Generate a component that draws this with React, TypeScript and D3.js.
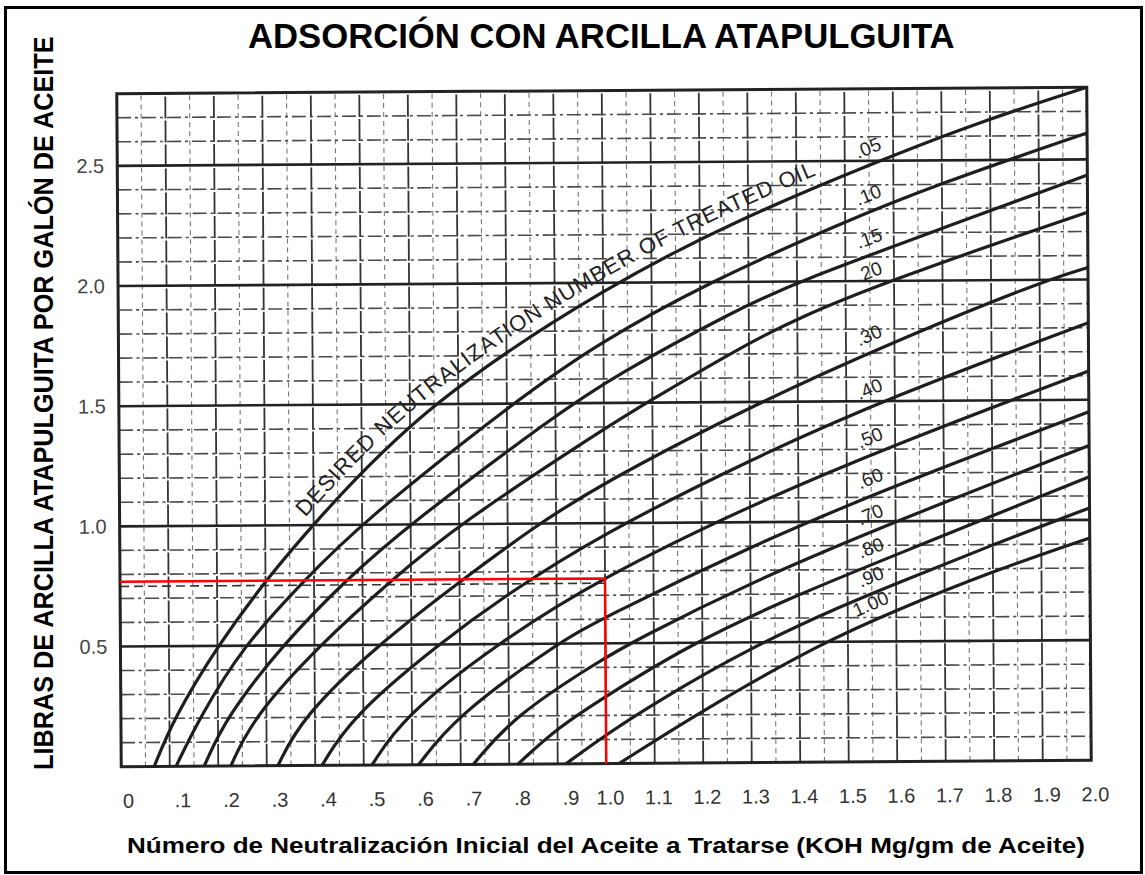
import React, { useEffect, useRef } from 'react';
import * as d3 from 'd3';

const W = 1145;
const H = 875;

const titleText = 'ADSORCIÓN CON ARCILLA ATAPULGUITA';
const yTitleText = 'LIBRAS DE ARCILLA ATAPULGUITA POR GALÓN DE ACEITE';
const xTitleText = 'Número de Neutralización Inicial del Aceite a Tratarse (KOH Mg/gm de Aceite)';
const curveNoteText = 'DESIRED NEUTRALIZATION NUMBER OF TREATED OIL';

const xTickValues = [0, 0.1, 0.2, 0.3, 0.4, 0.5, 0.6, 0.7, 0.8, 0.9, 1.0, 1.1, 1.2, 1.3, 1.4, 1.5, 1.6, 1.7, 1.8, 1.9, 2.0];
const xTickLabels = ['0', '.1', '.2', '.3', '.4', '.5', '.6', '.7', '.8', '.9', '1.0', '1.1', '1.2', '1.3', '1.4', '1.5', '1.6', '1.7', '1.8', '1.9', '2.0'];
const yTickValues = [0.5, 1.0, 1.5, 2.0, 2.5];
const yTickLabels = ['0.5', '1.0', '1.5', '2.0', '2.5'];

const curveLabels = ['.05', '.10', '.15', '.20', '.30', '.40', '.50', '.60', '.70', '.80', '.90', '1.00'];

const c05 = [[0.068, 0], [0.109, 0.2], [0.2, 0.5], [0.3, 0.77], [0.397, 1.0], [0.63, 1.5], [1.02, 2.0], [1.28, 2.26], [1.57, 2.5], [1.78, 2.66], [2.0, 2.8]];
const c10 = [[0.113, 0], [0.162, 0.2], [0.253, 0.5], [0.38, 0.77], [0.494, 1.0], [0.81, 1.5], [0.99, 1.75], [1.218, 2.0], [1.49, 2.24], [1.69, 2.4], [2.0, 2.61]];
const c15 = [[0.171, 0], [0.216, 0.2], [0.333, 0.5], [0.465, 0.77], [0.597, 1.0], [0.9, 1.45], [1.02, 1.61], [1.28, 1.89], [1.403, 2.0], [1.69, 2.21], [2.0, 2.435]];
const c20 = [[0.226, 0], [0.272, 0.2], [0.41, 0.5], [0.56, 0.77], [0.7, 1.0], [0.99, 1.38], [1.088, 1.5], [1.28, 1.725], [1.403, 1.85], [1.59, 2.0], [1.88, 2.2], [2.0, 2.28]];
const c30 = [[0.323, 0], [0.373, 0.2], [0.53, 0.5], [0.7, 0.76], [0.85, 0.98], [0.99, 1.16], [1.3, 1.48], [1.59, 1.74], [1.9, 1.99], [2.0, 2.05]];
const c40 = [[0.414, 0], [0.475, 0.2], [0.655, 0.5], [0.8, 0.71], [0.99, 0.95], [1.3, 1.26], [1.595, 1.52], [2.0, 1.82]];
const c50 = [[0.517, 0], [0.582, 0.2], [0.775, 0.5], [0.99, 0.77], [1.3, 1.07], [1.6, 1.32], [2.0, 1.62]];
const c60 = [[0.613, 0], [0.69, 0.2], [0.9, 0.5], [0.99, 0.6], [1.3, 0.9], [1.6, 1.15], [2.0, 1.45]];
const c70 = [[0.726, 0], [0.81, 0.2], [0.99, 0.43], [1.06, 0.51], [1.3, 0.75], [1.6, 1.0], [2.0, 1.31]];
const c80 = [[0.818, 0], [0.9, 0.15], [1.0, 0.28], [1.18, 0.5], [1.4, 0.7], [1.6, 0.86], [2.0, 1.18]];
const c90 = [[0.917, 0], [1.0, 0.12], [1.1, 0.25], [1.3, 0.48], [1.5, 0.66], [1.6, 0.74], [1.8, 0.9], [2.0, 1.05]];
const c100 = [[1.027, 0], [1.2, 0.22], [1.45, 0.5], [1.6, 0.63], [1.8, 0.79], [2.0, 0.925]];

const curves = [c05, c10, c15, c20, c30, c40, c50, c60, c70, c80, c90, c100];

const exampleX = 1.0;
const exampleY = 0.77;
const dashedRefY = 0.75;

const FONT = "'Liberation Sans', Arial, Helvetica, sans-serif";

function interp(pts: number[][], x: number): number {
  for (let i = 0; i < pts.length - 1; i++) {
    const [x0, y0] = pts[i];
    const [x1, y1] = pts[i + 1];
    if (x >= x0 && x <= x1) return y0 + ((x - x0) / (x1 - x0)) * (y1 - y0);
  }
  return pts[pts.length - 1][1];
}

export default function App() {
  const ref = useRef<SVGSVGElement>(null);

  useEffect(() => {
    const svg = d3.select(ref.current);
    svg.selectAll('*').remove();

    svg.append('rect').attr('x', 0).attr('y', 0).attr('width', W).attr('height', H).attr('fill', '#fff');
    svg.append('rect')
      .attr('x', 5.5).attr('y', 7.5).attr('width', 1136).attr('height', 865)
      .attr('fill', 'none').attr('stroke', '#000').attr('stroke-width', 3);

    const left = 119, right = 1089, top = 90.5, bottom = 763.5;
    const x = d3.scaleLinear().domain([0, 2]).range([left, right]);
    const y = d3.scaleLinear().domain([0, 2.8]).range([bottom, top]);

    const g = svg.append('g').attr('transform', `rotate(-0.38, ${(left + right) / 2}, ${(top + bottom) / 2})`);

    // vertical grid
    const vLines = d3.range(0, 41).map((i) => i * 0.05);
    g.append('g').selectAll('line').data(vLines).join('line')
      .attr('x1', (d) => x(d)).attr('x2', (d) => x(d))
      .attr('y1', y(0)).attr('y2', y(2.8))
      .attr('stroke', (d, i) => (i % 2 === 0 ? '#333' : '#777'))
      .attr('stroke-width', (d, i) => (i % 2 === 0 ? 1.8 : 1.1))
      .attr('stroke-dasharray', (d, i) => (i % 2 === 0 ? '22,2' : '5,4'));

    // horizontal grid
    const hLines = d3.range(1, 28).map((i) => i / 10);
    g.append('g').selectAll('line').data(hLines).join('line')
      .attr('x1', x(0)).attr('x2', x(2))
      .attr('y1', (d) => y(d)).attr('y2', (d) => y(d))
      .attr('stroke', (d) => (Math.round(d * 10) % 5 === 0 ? '#222' : '#4a4a4a'))
      .attr('stroke-width', (d) => (Math.round(d * 10) % 5 === 0 ? 2.6 : 1.6))
      .attr('stroke-dasharray', (d) => (Math.round(d * 10) % 5 === 0 ? null : '14,4,3,4'));

    // dashed reference line
    g.append('line')
      .attr('x1', x(0)).attr('x2', x(exampleX))
      .attr('y1', y(dashedRefY)).attr('y2', y(dashedRefY))
      .attr('stroke', '#333').attr('stroke-width', 1.6).attr('stroke-dasharray', '9,5');

    // frame
    g.append('rect')
      .attr('x', x(0)).attr('y', y(2.8)).attr('width', x(2) - x(0)).attr('height', y(0) - y(2.8))
      .attr('fill', 'none').attr('stroke', '#222').attr('stroke-width', 3);

    // curves
    const line = d3.line<number[]>().x((d) => x(d[0])).y((d) => y(d[1])).curve(d3.curveBasis);
    const paths = g.append('g').selectAll('path').data(curves).join('path')
      .attr('id', (d, i) => `curve${i}`)
      .attr('d', (d) => line(d))
      .attr('fill', 'none').attr('stroke', '#1e1e1e').attr('stroke-width', 3.2);

    // curve labels
    curves.forEach((pts, i) => {
      const lx = 1.56;
      const ly = interp(pts, lx);
      const dxp = x(1.62) - x(1.5);
      const dyp = y(interp(pts, 1.62)) - y(interp(pts, 1.5));
      const ang = Math.atan2(dyp, dxp);
      const off = 16;
      const nx = Math.sin(ang) * off;
      const ny = -Math.cos(ang) * off;
      const cx = x(lx) + nx;
      const cy = y(ly) + ny;
      g.append('text')
        .attr('transform', `translate(${cx},${cy}) rotate(${(ang * 180) / Math.PI})`)
        .attr('text-anchor', 'middle').attr('dominant-baseline', 'central')
        .attr('font-family', FONT).attr('font-size', 19).attr('fill', '#222')
        .text(curveLabels[i]);
    });

    // note along the .05 curve
    const node = paths.nodes()[0] as SVGPathElement;
    const total = node.getTotalLength();
    const lengthAtX = (px: number) => {
      let lo = 0, hi = total;
      for (let k = 0; k < 40; k++) {
        const mid = (lo + hi) / 2;
        if (node.getPointAtLength(mid).x < px) lo = mid; else hi = mid;
      }
      return lo;
    };
    const s = lengthAtX(x(0.4));
    const e = lengthAtX(x(1.45));
    const note = g.append('text')
      .attr('font-family', FONT).attr('font-size', 22).attr('fill', '#222').attr('dy', -11);
    note.append('textPath').attr('href', '#curve0').attr('startOffset', s).text(curveNoteText);
    const natural = (note.node() as SVGTextElement).getComputedTextLength();
    const spacing = (e - s - natural) / (curveNoteText.length - 1);
    note.attr('letter-spacing', spacing);

    // red example lines
    g.append('polyline')
      .attr('points', `${x(0)},${y(exampleY)} ${x(exampleX)},${y(exampleY)} ${x(exampleX)},${y(0)}`)
      .attr('fill', 'none').attr('stroke', '#ff0000').attr('stroke-width', 2.5);

    // x tick labels
    g.append('g').selectAll('text').data(xTickValues).join('text')
      .attr('x', (d, i) => x(d) + (xTickLabels[i].startsWith('.') ? 13 : d === 0 ? 7 : 4))
      .attr('y', bottom + 34)
      .attr('text-anchor', 'middle').attr('dominant-baseline', 'central')
      .attr('font-family', FONT).attr('font-size', 20).attr('fill', '#333')
      .text((d, i) => xTickLabels[i]);

    // y tick labels
    g.append('g').selectAll('text').data(yTickValues).join('text')
      .attr('x', left - 27).attr('y', (d) => y(d))
      .attr('text-anchor', 'middle').attr('dominant-baseline', 'central')
      .attr('font-family', FONT).attr('font-size', 20).attr('fill', '#444')
      .text((d, i) => yTickLabels[i]);

    // titles, condensed by a horizontal scale to the reference widths
    const fitText = (sel: any, width: number, pre: string) => {
      const n = (sel.node() as SVGTextElement).getComputedTextLength();
      sel.attr('transform', `${pre} scale(${width / n},1)`);
    };

    const t1 = svg.append('text')
      .attr('font-family', FONT).attr('font-weight', 'bold').attr('font-size', 36).attr('fill', '#000')
      .text(titleText);
    fitText(t1, 707, 'translate(248,48)');

    const t2 = svg.append('text')
      .attr('font-family', FONT).attr('font-weight', 'bold').attr('font-size', 27).attr('fill', '#000')
      .text(yTitleText);
    fitText(t2, 734, 'translate(53,770) rotate(-90)');

    const t3 = svg.append('text')
      .attr('font-family', FONT).attr('font-weight', 'bold').attr('font-size', 22).attr('fill', '#000')
      .text(xTitleText);
    fitText(t3, 958, 'translate(127,853)');
  }, []);

  return <svg ref={ref} width={W} height={H} style={{ position: 'absolute', left: 0, top: 0 }} />;
}
